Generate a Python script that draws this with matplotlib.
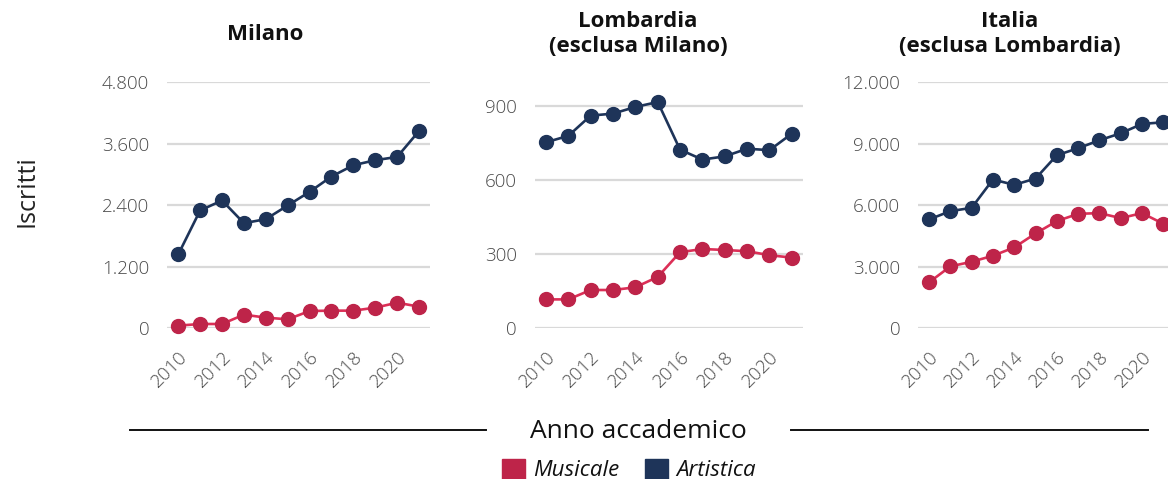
import matplotlib
matplotlib.use("Agg")
import matplotlib.pyplot as plt
from matplotlib.ticker import FuncFormatter
from matplotlib.patches import Rectangle
from matplotlib.lines import Line2D

plt.rcParams['font.family'] = ['Open Sans', 'DejaVu Sans']

years = list(range(2010, 2022))

titles = ["Milano", "Lombardia\n(esclusa Milano)", "Italia\n(esclusa Lombardia)"]

# Milano
milano_musicale = [52, 84, 84, 266, 208, 175, 337, 344, 344, 402, 499, 422]
milano_artistica = [1440, 2297, 2491, 2049, 2127, 2394, 2659, 2958, 3178, 3276, 3340, 3846]
# Lombardia (esclusa Milano)
lomb_musicale = [117, 117, 155, 155, 166, 208, 308, 321, 317, 312, 296, 286]
lomb_artistica = [753, 779, 861, 869, 896, 916, 723, 683, 696, 727, 721, 788]
# Italia (esclusa Lombardia)
ita_musicale = [2238, 3016, 3243, 3535, 3940, 4622, 5222, 5578, 5611, 5368, 5611, 5092]
ita_artistica = [5303, 5708, 5870, 7249, 6989, 7297, 8432, 8773, 9162, 9503, 9957, 10038]

yticks = [[0, 1200, 2400, 3600, 4800], [0, 300, 600, 900], [0, 3000, 6000, 9000, 12000]]
ytops = [4800, 997, 12000]

red_line = "#DC2F57"
red_mark = "#BE2449"
navy = "#1E3459"
tick_col = "#4A4A4A"

W, H = 1168, 479
fig = plt.figure(figsize=(W / 100, H / 100), dpi=100)

# axes boxes in pixels: left, right
boxes = [(167.3, 430.0), (534.8, 803.0), (918.4, 1174.0)]
title_x = [265, 638, 1010]
top_px, bot_px = 82.0, 328.3

series = [(milano_musicale, milano_artistica),
          (lomb_musicale, lomb_artistica),
          (ita_musicale, ita_artistica)]

def it_fmt(v, pos):
    return f"{int(round(v)):,}".replace(",", ".")

for i, ((l, r), (mus, art)) in enumerate(zip(boxes, series)):
    ax = fig.add_axes([l / W, 1 - bot_px / H, (r - l) / W, (bot_px - top_px) / H])
    ax.set_xlim(2009.5, 2021.5)
    ax.set_ylim(0, ytops[i])
    ax.set_yticks(yticks[i])
    ax.yaxis.set_major_formatter(FuncFormatter(it_fmt))
    ax.grid(axis='y', color="#D9D9D9", linewidth=1.6)
    ax.set_axisbelow(True)
    for s in ax.spines.values():
        s.set_visible(False)
    ax.plot(years, art, color=navy, linewidth=1.9, marker='o', markersize=10,
            markerfacecolor=navy, markeredgecolor=navy, clip_on=False, zorder=3)
    ax.plot(years, mus, color=red_line, linewidth=1.9, marker='o', markersize=10,
            markerfacecolor=red_mark, markeredgecolor=red_mark, clip_on=False, zorder=3)
    ax.set_xticks(years[::2])
    ax.tick_params(axis='both', length=0, colors=tick_col, labelsize=13.5)
    ax.tick_params(axis='y', pad=13)
    ax.tick_params(axis='x', pad=14)
    for lab in ax.get_xticklabels() + ax.get_yticklabels():
        lab.set_fontweight('light')
    for lab in ax.get_xticklabels():
        lab.set_rotation(45)
        lab.set_ha('right')
        lab.set_rotation_mode('anchor')
    fig.text(title_x[i] / W, 1 - 34 / H, titles[i], ha='center', va='center',
             fontsize=16, fontweight='bold', color="#111111", linespacing=1.25)

fig.text(27 / W, 1 - 191 / H, "Iscritti", rotation=90, ha='center', va='center',
         fontsize=18, color="#222222")

# x axis title with side rules
fig.text(638 / W, 1 - 432 / H, "Anno accademico", ha='center', va='center',
         fontsize=19, color="#111111")
fig.add_artist(Line2D([130 / W, 486 / W], [1 - 430 / H, 1 - 430 / H], color="#111111", linewidth=1.4))
fig.add_artist(Line2D([791 / W, 1148 / W], [1 - 430 / H, 1 - 430 / H], color="#111111", linewidth=1.4))

# legend
for x0, col, name in [(502, red_mark, "Musicale"), (645, navy, "Artistica")]:
    fig.add_artist(Rectangle((x0 / W, 1 - 479 / H), 23 / W, 20 / H, color=col,
                             transform=fig.transFigure))
    fig.text((x0 + 31) / W, 1 - 470 / H, name, ha='left', va='center',
             fontsize=16, fontstyle='italic', color="#111111")

fig.savefig("out.png", dpi=100)
